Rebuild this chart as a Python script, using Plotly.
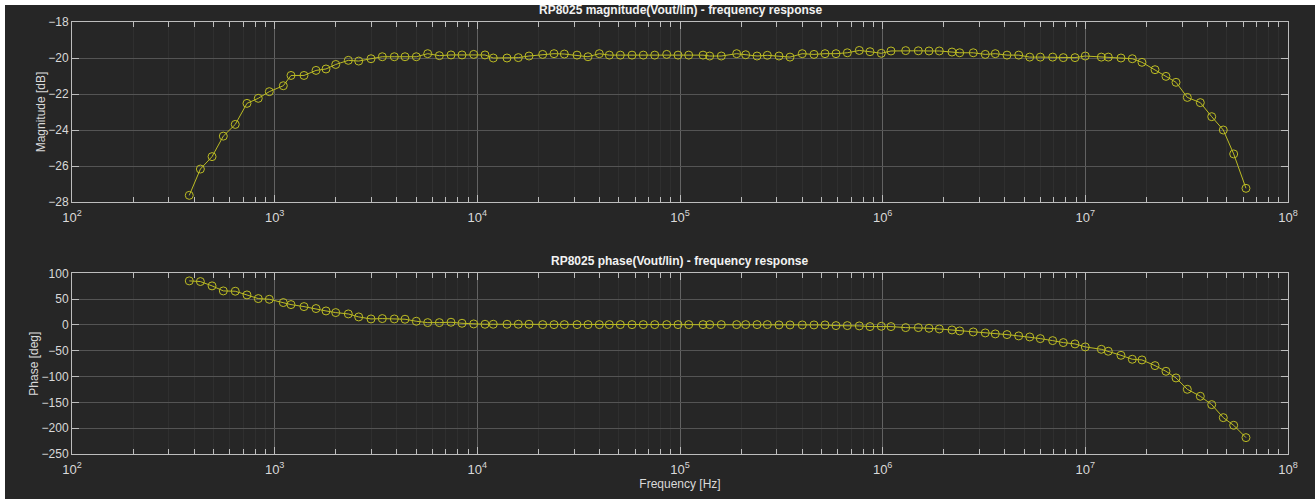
import plotly.graph_objects as go
from plotly.subplots import make_subplots

freq_hz = [
    379, 430, 491, 558, 639, 730, 830, 941, 1103, 1204,
    1395, 1600, 1792, 2001, 2309, 2598, 2988, 3397, 3893, 4397,
    4998, 5690, 6494, 7413, 8403, 9594, 10909, 11987, 14006, 15929,
    17984, 21010, 23893, 26867, 31028, 35156, 39976, 44793, 50758, 57963,
    65917, 75032, 85976, 97748, 110390, 129900, 140100, 159900, 190400, 210900,
    239900, 269700, 307800, 348900, 401200, 458200, 519400, 588400, 669100, 766700,
    865800, 984500, 1099000, 1299000, 1499000, 1693000, 1903000, 2198000, 2399000, 2800000,
    3208000, 3595000, 4106000, 4690000, 5314000, 5995000, 6901000, 7785000, 8891000, 9993000,
    11990000, 12980000, 14990000, 17050000, 19030000, 22070000, 25000000, 28020000, 31860000, 36920000,
    42030000, 47940000, 53950000, 62030000,
]

magnitude_db = [
    -27.63, -26.17, -25.48, -24.34, -23.69, -22.52, -22.24, -21.87, -21.54, -20.97,
    -20.97, -20.69, -20.61, -20.36, -20.13, -20.17, -20.04, -19.93, -19.93, -19.93,
    -19.93, -19.76, -19.87, -19.83, -19.83, -19.80, -19.83, -20.00, -20.00, -19.98,
    -19.89, -19.80, -19.76, -19.78, -19.84, -19.93, -19.76, -19.84, -19.84, -19.84,
    -19.84, -19.84, -19.80, -19.84, -19.84, -19.84, -19.89, -19.89, -19.76, -19.82,
    -19.89, -19.85, -19.89, -19.95, -19.76, -19.80, -19.76, -19.76, -19.71, -19.58,
    -19.65, -19.74, -19.61, -19.59, -19.60, -19.61, -19.61, -19.67, -19.71, -19.71,
    -19.80, -19.76, -19.84, -19.84, -19.95, -19.95, -19.95, -19.98, -19.98, -19.89,
    -19.95, -19.95, -20.00, -20.04, -20.24, -20.65, -21.02, -21.35, -22.19, -22.48,
    -23.26, -24.00, -25.33, -27.24,
]

phase_deg = [
    85.3, 84.0, 75.6, 65.9, 65.3, 58.1, 51.0, 49.7, 43.3, 39.4,
    35.5, 31.7, 27.1, 23.9, 21.3, 15.5, 11.6, 12.3, 11.6, 11.0,
    7.1, 4.5, 4.5, 5.2, 3.2, 1.9, 1.3, 1.3, 1.3, 1.3,
    1.3, 0.6, 0.6, 0.6, 0.6, 0.6, 0.6, 0.6, 0.6, 0.6,
    0.6, 0.6, 0.6, 0.6, 0.6, 0.6, 0.6, 0.6, 0.6, 0.6,
    0.6, 0.6, 0.0, 0.0, 0.0, 0.0, 0.0, -1.3, -1.3, -1.9,
    -3.2, -2.6, -3.2, -5.2, -5.2, -6.5, -7.8, -9.7, -11.6, -13.6,
    -15.5, -17.4, -18.7, -21.3, -23.3, -26.5, -30.4, -34.2, -36.8, -42.6,
    -47.2, -51.0, -58.8, -66.5, -67.8, -78.8, -89.8, -102.7, -124.7, -138.2,
    -154.4, -179.6, -194.4, -218.3,
]

x_tick_vals = [1e2, 1e3, 1e4, 1e5, 1e6, 1e7, 1e8]
x_tick_text = ["10<sup>2</sup>", "10<sup>3</sup>", "10<sup>4</sup>", "10<sup>5</sup>",
               "10<sup>6</sup>", "10<sup>7</sup>", "10<sup>8</sup>"]
mag_ticks = [-28, -26, -24, -22, -20, -18]
phase_ticks = [-250, -200, -150, -100, -50, 0, 50, 100]

title_mag = "RP8025 magnitude(Vout/lin) - frequency response"
title_phase = "RP8025 phase(Vout/lin) - frequency response"

W, H = 1315, 499
ML, MR, MT, MB = 72, 27, 22, 45
PW, PH = W - ML - MR, H - MT - MB

BG = "#262626"
LINE = "#bcbc24"
TXT = "#d9d9d9"
AXC = "#bdbdbd"
GRID = "#545454"
MINOR = "#2f2f2f"
FONT = "Liberation Sans, Arial, sans-serif"

fig = make_subplots(rows=2, cols=1, vertical_spacing=0.0)

top_dom = [1 - 180 / PH, 1.0]
bot_dom = [0.0, 1 - 251.3 / PH]

for r, yv in ((1, magnitude_db), (2, phase_deg)):
    fig.add_trace(go.Scatter(
        x=freq_hz, y=yv, mode="lines+markers",
        line=dict(color=LINE, width=1),
        marker=dict(symbol="circle-open", size=8, color=LINE, line=dict(width=1, color=LINE)),
        showlegend=False, hoverinfo="x+y",
    ), row=r, col=1)

xcommon = dict(
    type="log", range=[2, 8], tickvals=x_tick_vals, ticktext=x_tick_text,
    showline=True, linecolor=AXC, linewidth=1, mirror="ticks",
    ticks="inside", ticklen=7, tickcolor=AXC, tickwidth=1,
    showgrid=True, gridcolor="#626262", gridwidth=1,
    minor=dict(ticks="inside", ticklen=5, tickcolor=AXC, showgrid=True, gridcolor=MINOR,
               dtick="D1"),
    tickfont=dict(family=FONT, size=13, color=TXT), zeroline=False,
    ticklabelstandoff=3,
)
fig.update_xaxes(**xcommon)
fig.update_xaxes(row=2, col=1, title=dict(text="Frequency [Hz]", standoff=3,
                                          font=dict(family=FONT, size=12, color=TXT)))

ycommon = dict(
    showline=True, linecolor=AXC, linewidth=1, mirror="ticks",
    ticks="inside", ticklen=7, tickcolor=AXC,
    showgrid=True, gridcolor=GRID, gridwidth=1, zeroline=False,
    tickfont=dict(family=FONT, size=12, color=TXT),
)
fig.update_yaxes(**ycommon)
fig.update_yaxes(row=1, col=1, range=[-28, -18], tickvals=mag_ticks, domain=top_dom,
                 title=dict(text="Magnitude [dB]", standoff=0, font=dict(family=FONT, size=12, color=TXT)))
fig.update_yaxes(row=2, col=1, range=[-250, 100], tickvals=phase_ticks, domain=bot_dom,
                 title=dict(text="Phase [deg]", standoff=0, font=dict(family=FONT, size=12, color=TXT)))

# dark background with thin white border at top/left (as in the reference)
fig.add_shape(type="rect", xref="paper", yref="paper", layer="below",
              x0=(5 - ML) / PW, x1=(W + 20 - ML) / PW,
              y0=-(MB + 20) / PH, y1=1 + (MT - 5) / PH,
              fillcolor=BG, line=dict(width=0))

fig.add_annotation(text="<b>" + title_mag + "</b>", xref="paper", yref="paper",
                   x=0.5, y=1 + 3 / PH, yanchor="bottom", showarrow=False,
                   font=dict(family=FONT, size=12, color="#f2f2f2"))
fig.add_annotation(text="<b>" + title_phase + "</b>", xref="paper", yref="paper",
                   x=0.5, y=bot_dom[1] + 3 / PH, yanchor="bottom", showarrow=False,
                   font=dict(family=FONT, size=12, color="#f2f2f2"))

fig.update_layout(
    width=W, height=H,
    margin=dict(l=ML, r=MR, t=MT, b=MB, pad=0),
    paper_bgcolor="white", plot_bgcolor="rgba(0,0,0,0)",
    font=dict(family=FONT, size=12, color=TXT),
)

fig.write_html("out.html", config={"displayModeBar": False},
               post_script="document.body.style.margin='0px';")
